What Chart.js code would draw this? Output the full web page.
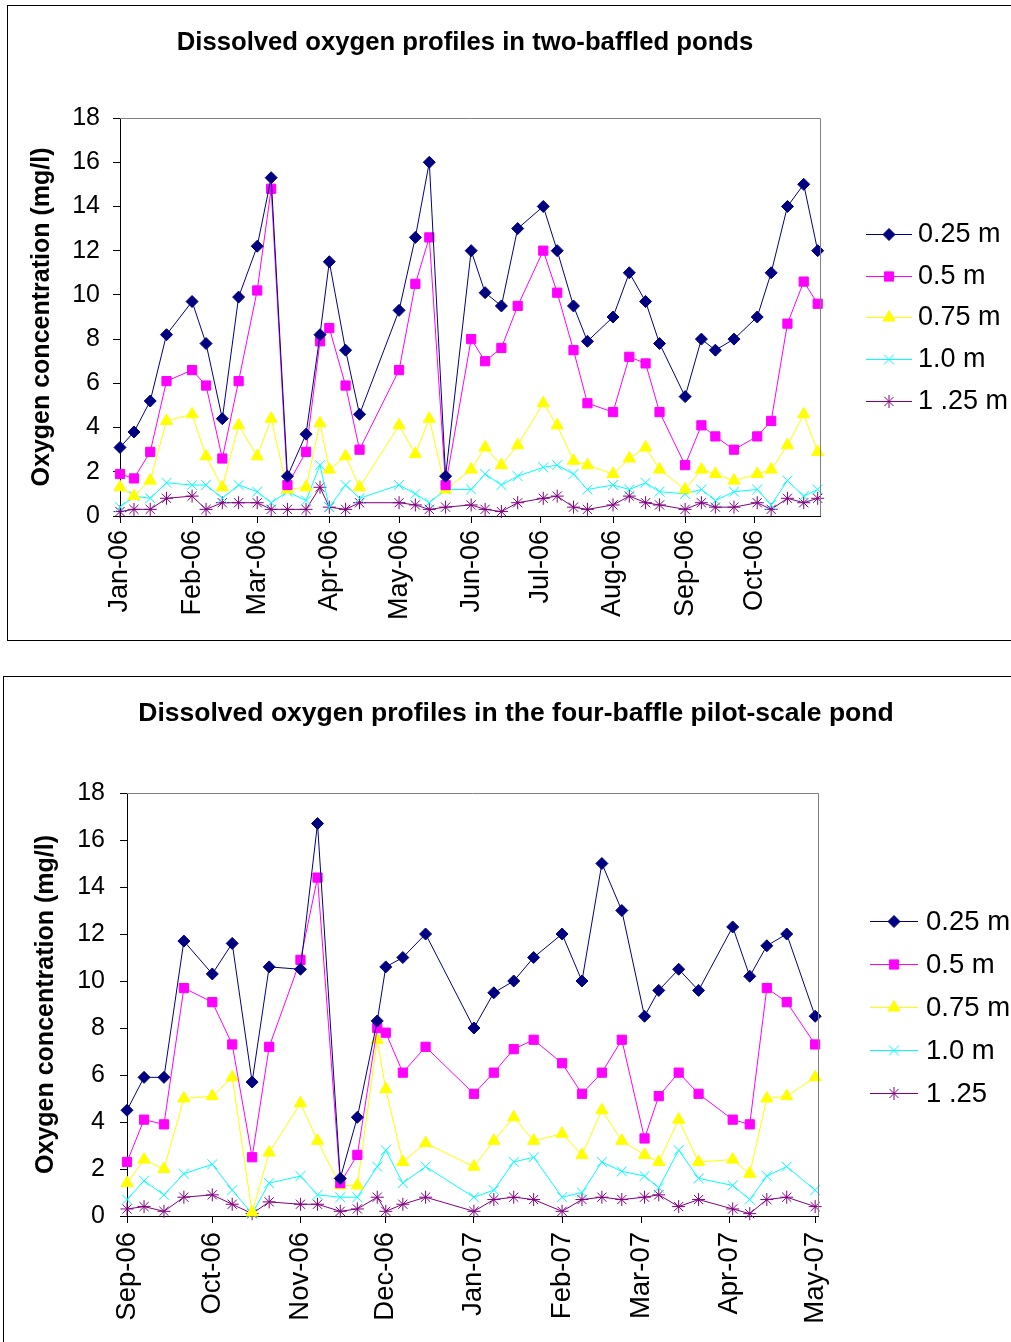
<!DOCTYPE html>
<html>
<head>
<meta charset="utf-8">
<script src="https://cdn.jsdelivr.net/npm/chart.js@4.4.0/dist/chart.umd.min.js"></script>
<style>
  html, body { margin: 0; padding: 0; background: #fff; }
  body { width: 1011px; height: 1342px; position: relative; overflow: hidden; }
  .box { position: absolute; border: 1px solid #000; box-sizing: border-box; }
  #box1 { left: 7px; top: 5px; width: 1030px; height: 636px; }
  #box2 { left: 3px; top: 676px; width: 1030px; height: 690px; }
  canvas { position: absolute; }
  #c1 { left: 8px; top: 6px; }
  #c2 { left: 4px; top: 677px; }
</style>
</head>
<body>
<div class="box" id="box1"></div>
<div class="box" id="box2"></div>
<canvas id="c1" width="1003" height="633"></canvas>
<canvas id="c2" width="1007" height="665"></canvas>
<script>
// ---- two-baffled ponds (2006) ----
const pondDates = ['2006-01-01','2006-01-07','2006-01-14','2006-01-21','2006-02-01','2006-02-07','2006-02-14','2006-02-21',
  '2006-03-01','2006-03-07','2006-03-14','2006-03-22','2006-03-28','2006-04-01','2006-04-08','2006-04-14',
  '2006-05-01','2006-05-08','2006-05-14','2006-05-21','2006-06-01','2006-06-07','2006-06-14','2006-06-21',
  '2006-07-02','2006-07-08','2006-07-15','2006-07-21','2006-08-01','2006-08-08','2006-08-15','2006-08-21',
  '2006-09-01','2006-09-08','2006-09-14','2006-09-22','2006-10-02','2006-10-08','2006-10-15','2006-10-22','2006-10-28'];
const pond025 = [3.1, 3.8, 5.2, 8.2, 9.7, 7.8, 4.4, 9.9, 12.2, 15.3, 1.8, 3.7, 8.2, 11.5, 7.5, 4.6, 9.3, 12.6, 16.0, 1.8,
  12.0, 10.1, 9.5, 13.0, 14.0, 12.0, 9.5, 7.9, 9.0, 11.0, 9.7, 7.8, 5.4, 8.0, 7.5, 8.0, 9.0, 11.0, 14.0, 15.0, 12.0];
const pond05 = [1.9, 1.7, 2.9, 6.1, 6.6, 5.9, 2.6, 6.1, 10.2, 14.8, 1.4, 2.9, 7.9, 8.5, 5.9, 3.0, 6.6, 10.5, 12.6, 1.4,
  8.0, 7.0, 7.6, 9.5, 12.0, 10.1, 7.5, 5.1, 4.7, 7.2, 6.9, 4.7, 2.3, 4.1, 3.6, 3.0, 3.6, 4.3, 8.7, 10.6, 9.6];
const pond075 = [1.3, 0.9, 1.6, 4.3, 4.6, 2.7, 1.3, 4.1, 2.7, 4.4, 1.2, 1.3, 4.2, 2.1, 2.7, 1.3, 4.1, 2.8, 4.4, 1.2,
  2.1, 3.1, 2.3, 3.2, 5.1, 4.1, 2.5, 2.3, 1.9, 2.6, 3.1, 2.1, 1.2, 2.1, 1.9, 1.6, 1.9, 2.1, 3.2, 4.6, 2.9];
const pond10 = [0.4, 0.9, 0.8, 1.5, 1.4, 1.4, 0.8, 1.4, 1.1, 0.6, 1.1, 0.7, 2.3, 0.4, 1.4, 0.8, 1.4, 1.0, 0.6, 1.2,
  1.2, 1.9, 1.4, 1.8, 2.2, 2.3, 1.9, 1.2, 1.4, 1.2, 1.5, 1.1, 1.0, 1.2, 0.7, 1.1, 1.2, 0.5, 1.6, 0.9, 1.2];
const pond125 = [0.2, 0.3, 0.3, 0.8, 0.9, 0.3, 0.6, 0.6, 0.6, 0.3, 0.3, 0.3, 1.3, 0.4, 0.3, 0.6, 0.6, 0.5, 0.3, 0.4,
  0.5, 0.3, 0.2, 0.6, 0.8, 0.9, 0.4, 0.3, 0.5, 0.9, 0.6, 0.5, 0.3, 0.6, 0.4, 0.4, 0.6, 0.3, 0.8, 0.6, 0.8];
const pondTickDates = ['2006-01-01','2006-02-01','2006-03-01','2006-04-01','2006-05-01','2006-06-01','2006-07-01','2006-08-01','2006-09-01','2006-10-01'];
const pondTickLabels = ['Jan-06','Feb-06','Mar-06','Apr-06','May-06','Jun-06','Jul-06','Aug-06','Sep-06','Oct-06'];
const pondLegend = ['0.25 m', '0.5 m', '0.75 m', '1.0 m', '1 .25 m'];

// ---- four-baffle pilot-scale pond (2006-07) ----
const pilotDates = ['2006-09-01','2006-09-07','2006-09-14','2006-09-21','2006-10-01','2006-10-08','2006-10-15','2006-10-21',
  '2006-11-01','2006-11-07','2006-11-15','2006-11-21','2006-11-28','2006-12-01','2006-12-07','2006-12-15',
  '2007-01-01','2007-01-08','2007-01-15','2007-01-22','2007-02-01','2007-02-08','2007-02-15','2007-02-22',
  '2007-03-02','2007-03-07','2007-03-14','2007-03-21','2007-04-02','2007-04-08','2007-04-14','2007-04-21','2007-05-01'];
const pilot025 = [4.5, 5.9, 5.9, 11.7, 10.3, 11.6, 5.7, 10.6, 10.5, 16.7, 1.6, 4.2, 8.3, 10.6, 11.0, 12.0,
  8.0, 9.5, 10.0, 11.0, 12.0, 10.0, 15.0, 13.0, 8.5, 9.6, 10.5, 9.6, 12.3, 10.2, 11.5, 12.0, 8.5];
const pilot05 = [2.3, 4.1, 3.9, 9.7, 9.1, 7.3, 2.5, 7.2, 10.9, 14.4, 1.4, 2.6, 8.0, 7.8, 6.1, 7.2,
  5.2, 6.1, 7.1, 7.5, 6.5, 5.2, 6.1, 7.5, 3.3, 5.1, 6.1, 5.2, 4.1, 3.9, 9.7, 9.1, 7.3];
const pilot075 = [1.4, 2.4, 2.0, 5.0, 5.1, 5.9, 0.15, 2.7, 4.8, 3.2, 1.3, 1.3, 7.5, 5.4, 2.3, 3.1,
  2.1, 3.2, 4.2, 3.2, 3.5, 2.6, 4.5, 3.2, 2.6, 2.3, 4.1, 2.3, 2.4, 1.8, 5.0, 5.1, 5.9];
const pilot10 = [0.7, 1.5, 0.9, 1.8, 2.2, 1.1, 0.1, 1.4, 1.7, 0.9, 0.8, 0.8, 2.1, 2.8, 1.4, 2.1,
  0.8, 1.1, 2.3, 2.5, 0.8, 1.0, 2.3, 1.9, 1.7, 1.2, 2.8, 1.6, 1.3, 0.7, 1.7, 2.1, 1.1];
const pilot125 = [0.3, 0.4, 0.2, 0.8, 0.9, 0.5, 0.1, 0.6, 0.5, 0.5, 0.2, 0.3, 0.8, 0.2, 0.5, 0.8,
  0.2, 0.7, 0.8, 0.7, 0.2, 0.7, 0.8, 0.7, 0.8, 0.9, 0.4, 0.7, 0.3, 0.1, 0.7, 0.8, 0.4];
const pilotTickDates = ['2006-09-01','2006-10-01','2006-11-01','2006-12-01','2007-01-01','2007-02-01','2007-03-01','2007-04-01','2007-05-01'];
const pilotTickLabels = ['Sep-06','Oct-06','Nov-06','Dec-06','Jan-07','Feb-07','Mar-07','Apr-07','May-07'];
const pilotLegend = ['0.25 m', '0.5 m', '0.75 m', '1.0 m', '1 .25'];

const FONT = '"Liberation Sans", Arial, sans-serif';
const seriesStyle = [
  { color: '#000080', point: 'rectRot', r: 6 },
  { color: '#FF00FF', point: 'rect', r: 6.5 },
  { color: '#FFFF00', point: 'triangle', r: 7 },
  { color: '#00FFFF', point: 'crossRot', r: 7 },
  { color: '#800080', point: 'star', r: 6.5 }
];

function dayOrigin(s) {
  const p = s.split('-').map(Number);
  return Date.UTC(p[0], p[1] - 1, p[2]);
}
function dayOf(s, origin) {
  return (dayOrigin(s) - dayOrigin(origin)) / 864e5;
}

// title, plot frame and Excel-like legend
const decor = {
  id: 'decor',
  afterDraw(chart, args, o) {
    const ctx = chart.ctx, a = chart.chartArea;
    ctx.save();
    ctx.strokeStyle = '#808080';
    ctx.lineWidth = 1;
    ctx.beginPath();
    ctx.moveTo(a.left, a.top + 0.5);
    ctx.lineTo(a.right + 0.5, a.top + 0.5);
    ctx.lineTo(a.right + 0.5, a.bottom);
    ctx.stroke();

    ctx.fillStyle = '#000';
    ctx.font = 'bold ' + o.titleSize + 'px ' + FONT;
    ctx.textAlign = 'center';
    ctx.textBaseline = 'middle';
    ctx.fillText(o.title, o.titleX, o.titleY);

    ctx.font = o.legendSize + 'px ' + FONT;
    ctx.textAlign = 'left';
    chart.data.datasets.forEach((ds, i) => {
      const y = Math.round(o.legendY + i * o.legendGap);
      ctx.strokeStyle = ds.borderColor;
      ctx.lineWidth = 1;
      ctx.beginPath();
      ctx.moveTo(o.lineX0, y + 0.5);
      ctx.lineTo(o.lineX1, y + 0.5);
      ctx.stroke();
      ctx.fillStyle = ds.pointBackgroundColor;
      if (Chart.helpers && Chart.helpers.drawPoint) {
        Chart.helpers.drawPoint(ctx, { pointStyle: ds.pointStyle, radius: ds.pointRadius, borderWidth: 1, rotation: 0 },
          (o.lineX0 + o.lineX1) / 2, y + 0.5);
      }
      ctx.fillStyle = '#000';
      ctx.fillText(ds.label, o.textX, y + 1);
    });
    ctx.restore();
  }
};

function makeChart(id, dates, series, labels, tickDates, tickLabels, start, end, L) {
  const datasets = series.map((vals, i) => ({
    label: labels[i],
    data: vals.map((v, k) => ({ x: dayOf(dates[k], start), y: v })),
    borderColor: seriesStyle[i].color,
    backgroundColor: seriesStyle[i].color,
    pointBackgroundColor: seriesStyle[i].color,
    pointBorderColor: seriesStyle[i].color,
    pointStyle: seriesStyle[i].point,
    pointRadius: seriesStyle[i].r,
    pointBorderWidth: 1,
    borderWidth: 1,
    tension: 0,
    clip: false
  }));
  const ticks = tickDates.map(d => dayOf(d, start));
  return new Chart(document.getElementById(id), {
    type: 'line',
    data: { datasets },
    options: {
      responsive: false,
      animation: false,
      devicePixelRatio: 1,
      layout: { padding: { top: L.top, right: L.right, left: 0, bottom: 0 } },
      scales: {
        x: {
          type: 'linear',
          min: 0,
          max: dayOf(end, start),
          afterBuildTicks: s => { s.ticks = ticks.map(v => ({ value: v })); },
          afterFit: s => { s.height = L.xHeight; },
          grid: { drawOnChartArea: false, drawTicks: true, tickLength: 7, color: '#000' },
          border: { display: true, color: '#000', width: 1 },
          ticks: {
            autoSkip: false, minRotation: 90, maxRotation: 90, padding: L.xPad,
            color: '#000', font: { family: FONT, size: L.xTickSize },
            callback: (v, i) => tickLabels[i]
          }
        },
        y: {
          min: 0, max: 18,
          afterFit: s => { s.width = L.yWidth; },
          grid: { drawOnChartArea: false, drawTicks: true, tickLength: 7, color: '#000' },
          border: { display: true, color: '#000', width: 1 },
          ticks: { stepSize: 2, padding: L.yPad, color: '#000', font: { family: FONT, size: L.yTickSize } },
          title: {
            display: true, text: 'Oxygen concentration (mg/l)', color: '#000',
            font: { family: FONT, size: L.axisTitleSize, weight: 'bold' },
            padding: { top: L.yTitlePad, bottom: 0 }
          }
        }
      },
      plugins: {
        legend: { display: false },
        tooltip: { enabled: false },
        decor: L.decor
      }
    },
    plugins: [decor]
  });
}

makeChart('c1', pondDates, [pond025, pond05, pond075, pond10, pond125], pondLegend,
  pondTickDates, pondTickLabels, '2006-01-01', '2006-10-29', {
    top: 112, right: 191, xHeight: 123, yWidth: 112, xPad: 7, yPad: 13, yTitlePad: 19,
    xTickSize: 27, yTickSize: 25, axisTitleSize: 25,
    decor: { title: 'Dissolved oxygen profiles in two-baffled ponds', titleX: 457, titleY: 37, titleSize: 25.7,
      legendY: 228, legendGap: 41.7, lineX0: 858, lineX1: 904, textX: 910, legendSize: 27 }
  });

makeChart('c2', pilotDates, [pilot025, pilot05, pilot075, pilot10, pilot125], pilotLegend,
  pilotTickDates, pilotTickLabels, '2006-09-01', '2007-05-02', {
    top: 116, right: 193, xHeight: 126, yWidth: 123, xPad: 9, yPad: 15, yTitlePad: 27,
    xTickSize: 27.5, yTickSize: 25, axisTitleSize: 25,
    decor: { title: 'Dissolved oxygen profiles in the four-baffle pilot-scale pond', titleX: 512, titleY: 37, titleSize: 26.5,
      legendY: 244, legendGap: 43, lineX0: 866, lineX1: 914, textX: 922, legendSize: 27.5 }
  });
</script>
</body>
</html>
